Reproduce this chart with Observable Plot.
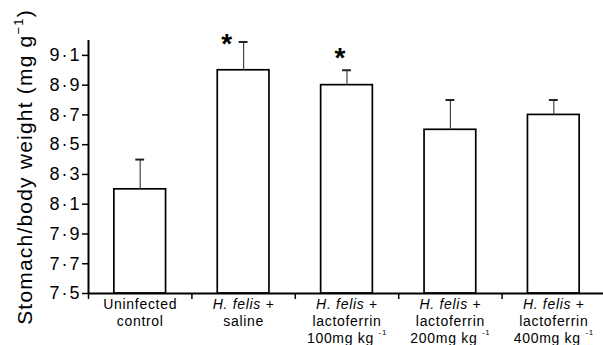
<!DOCTYPE html>
<html><head><meta charset="utf-8">
<script src="https://cdn.jsdelivr.net/npm/d3@7"></script>
<script src="https://cdn.jsdelivr.net/npm/@observablehq/plot@0.6"></script>
<style>
body{margin:0;background:#fff}
</style></head><body><div id="chart"></div>
<script>
const categories = ["Uninfected control", "H. felis + saline", "H. felis + lactoferrin 100mg kg-1", "H. felis + lactoferrin 200mg kg-1", "H. felis + lactoferrin 400mg kg-1"];
const labelLines = [
  ["Uninfected", "control"],
  ["H. felis +", "saline"],
  ["H. felis +", "lactoferrin", "100mg kg -1"],
  ["H. felis +", "lactoferrin", "200mg kg -1"],
  ["H. felis +", "lactoferrin", "400mg kg -1"]
];
const means = [8.2, 9.0, 8.9, 8.6, 8.7];
const sems = [0.2, 0.19, 0.1, 0.2, 0.1];
const significant = [false, true, true, false, false];
const yTicks = [7.5, 7.7, 7.9, 8.1, 8.3, 8.5, 8.7, 8.9, 9.1];
const yLabel = "Stomach/body weight (mg g-1)";

const data = categories.map((c, i) => ({i, name: c, label: labelLines[i].join("\n"), mean: means[i], sem: sems[i], sig: significant[i]}));
const stars = data.filter(d => d.sig);
const fmt = d => d.toFixed(1).replace(".", "·");
const tickTexts = new Set(yTicks.map(fmt));

const chart = Plot.plot({
  width: 603, height: 345,
  marginLeft: 88, marginRight: -2, marginTop: 40, marginBottom: 52,
  style: {fontFamily: "'Liberation Sans', Arial, sans-serif", background: "white"},
  x: {domain: [0, categories.length], axis: null},
  y: {domain: [7.5, 9.2], axis: null},
  marks: [
    Plot.rect(data, {x1: d => d.i + 0.25, x2: d => d.i + 0.75, y1: 7.5, y2: "mean", fill: "white", stroke: "black", strokeWidth: 1.7}),
    Plot.ruleX(data, {x: d => d.i + 0.5, y1: "mean", y2: d => d.mean + d.sem, stroke: "#444", strokeWidth: 1.2}),
    Plot.ruleY(data, {y: d => d.mean + d.sem, x1: d => d.i + 0.5 - 0.043, x2: d => d.i + 0.5 + 0.043, stroke: "#222", strokeWidth: 2}),
    Plot.text(stars, {x: d => d.i + 0.5, y: d => d.mean + d.sem, text: () => "*", dx: -17, dy: 2, fontSize: 28, fontWeight: "bold", lineAnchor: "middle", filter: d => d.i === 1}),
    Plot.text(stars, {x: d => d.i + 0.5, y: d => d.mean + d.sem, text: () => "*", dx: -7, dy: -12, fontSize: 28, fontWeight: "bold", lineAnchor: "middle", filter: d => d.i === 2}),
    Plot.axisY({ticks: yTicks, tickSize: 6, tickPadding: 1, fontSize: 18, strokeWidth: 1.5, label: null, tickFormat: fmt}),
    Plot.axisX({ticks: d3.range(categories.length + 1), tickSize: 6, strokeWidth: 1.5, tickFormat: () => "", label: null}),
    Plot.ruleX([0], {stroke: "black", strokeWidth: 2}),
    Plot.ruleY([7.5], {stroke: "black", strokeWidth: 2}),
    Plot.text(data, {x: d => d.i + 0.5, text: "label", frameAnchor: "bottom", lineAnchor: "top", dy: 4, lineHeight: 1.2, fontSize: 14}),
    Plot.text([yLabel], {text: d => d, frameAnchor: "left", textAnchor: "middle", dx: -63, rotate: -90, fontSize: 21})
  ]
});
document.getElementById("chart").appendChild(chart);

// typography
chart.querySelectorAll("text").forEach(el => {
  const t = el.textContent;
  if (tickTexts.has(t)) {
    el.style.fontSize = "18px";
    el.style.letterSpacing = "2px";
  } else if (labelLines.some(ls => ls.join("") === t)) {
    el.style.fontSize = "14px";
    el.style.letterSpacing = "0.7px";
  } else if (t === yLabel) {
    el.style.letterSpacing = "1.2px";
  }
});
// rich text: italic species name and superscripts
chart.querySelectorAll("text, tspan").forEach(el => {
  if (el.children.length) return;
  const t = el.textContent;
  if (t.startsWith("H. felis +")) {
    el.innerHTML = '<tspan font-style="italic">H. felis</tspan> +';
  } else if (/kg -1$/.test(t)) {
    el.innerHTML = t.replace(/-1$/, '') + '<tspan font-size="8" dy="-8">-1</tspan>';
  } else if (t === yLabel) {
    el.innerHTML = 'Stomach/body weight (mg g<tspan font-size="13" dy="-9">\u22121</tspan><tspan dy="9">)</tspan>';
  }
});
</script></body></html>
